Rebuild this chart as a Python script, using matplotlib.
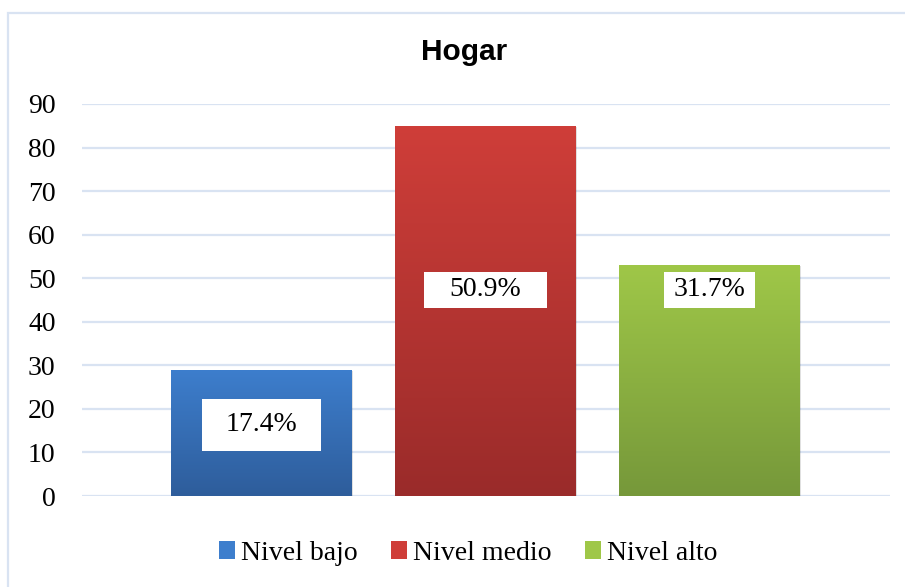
import numpy as np
import matplotlib
matplotlib.use('Agg')
import matplotlib.pyplot as plt
from matplotlib.colors import LinearSegmentedColormap
from matplotlib.patches import Rectangle, Patch

# datos
categorias = ['Nivel bajo', 'Nivel medio', 'Nivel alto']
valores = [29, 85, 53]
porcentajes = ['17.4%', '50.9%', '31.7%']
yticks = [0, 10, 20, 30, 40, 50, 60, 70, 80, 90]

# estilos
col_arriba = ['#3d7ecd', '#cf3e39', '#9fc748']
col_abajo = ['#2e5d9b', '#9a2b2a', '#76983a']
label_y = [16.4, 47.4, 47.4]
pad_x = [23, 25, 9]
pad_y = [16, 8, 8]
grid_col = '#d9e3f2'

W, H = 905, 587
fig = plt.figure(figsize=(W / 100, H / 100), dpi=100)
ax = fig.add_axes([82 / W, 1 - 496 / H, (890 - 82) / W, (496 - 104) / H])

x = np.arange(len(categorias))
ancho = 0.808
barras = ax.bar(x, valores, width=ancho, color='none', zorder=3)

grad = np.linspace(1, 0, 256).reshape(-1, 1)
for i, b in enumerate(barras):
    cmap = LinearSegmentedColormap.from_list('g%d' % i, [col_abajo[i], col_arriba[i]])
    x0, y0 = b.get_x(), b.get_y()
    w, h = b.get_width(), b.get_height()
    # sombra
    ax.add_patch(Rectangle((x0 + 0.006, y0 - 0.25), w, h, color='#000000', alpha=0.12,
                           zorder=2, linewidth=0))
    im = ax.imshow(grad, cmap=cmap, extent=[x0, x0 + w, y0, y0 + h], aspect='auto',
                   zorder=3, interpolation='bicubic')
    im.set_clip_path(b)

ax.set_xlim(-0.801, 2.806)
ax.set_ylim(0, 90)
ax.set_yticks(yticks)
ax.set_xticks([])
for v in yticks:
    ax.axhline(v, color=grid_col, lw=1.6, zorder=1)
for s in ax.spines.values():
    s.set_visible(False)
ax.tick_params(axis='y', length=0, pad=19, labelsize=20)
for t in ax.get_yticklabels():
    t.set_fontfamily('Liberation Serif')

# etiquetas con caja blanca
textos = []
for i in range(len(valores)):
    t = ax.text(x[i], label_y[i], porcentajes[i], ha='center', va='center',
                fontsize=20, family='Liberation Serif', zorder=6)
    textos.append(t)
fig.canvas.draw()
r = fig.canvas.get_renderer()
for i, t in enumerate(textos):
    bb = t.get_window_extent(r)
    cx = (bb.x0 + bb.x1) / 2
    cy = (bb.y0 + bb.y1) / 2
    hw = 73 / 2 + pad_x[i]
    hh = 10 + pad_y[i]
    fig.add_artist(Rectangle((cx - hw, cy - hh), 2 * hw, 2 * hh, transform=None,
                             facecolor='white', edgecolor='none', zorder=5))
    t.remove()
    fig.text(cx / W, cy / H, porcentajes[i], ha='center', va='center', fontsize=20,
             family='Liberation Serif', zorder=8)

fig.text(464 / W, 1 - 52 / H, 'Hogar', ha='center', va='center', fontsize=21.5,
         fontweight='bold', family='Liberation Sans')

# leyenda
handles = [Patch(facecolor=col_arriba[i], edgecolor='none') for i in range(3)]
leg = fig.legend(handles, categorias, loc='center', bbox_to_anchor=(468 / W, 1 - 553 / H),
                 ncol=3, frameon=False, prop={'family': 'Liberation Serif', 'size': 20},
                 handlelength=0.6, handleheight=0.6, handletextpad=0.2, columnspacing=1.2)

# borde exterior
fig.add_artist(Rectangle((8 / W, -0.1), 1.2, 1 - 13 / H + 0.1, transform=fig.transFigure,
                         facecolor='none', edgecolor=grid_col, lw=1.6))

fig.savefig('out.png', dpi=100)
